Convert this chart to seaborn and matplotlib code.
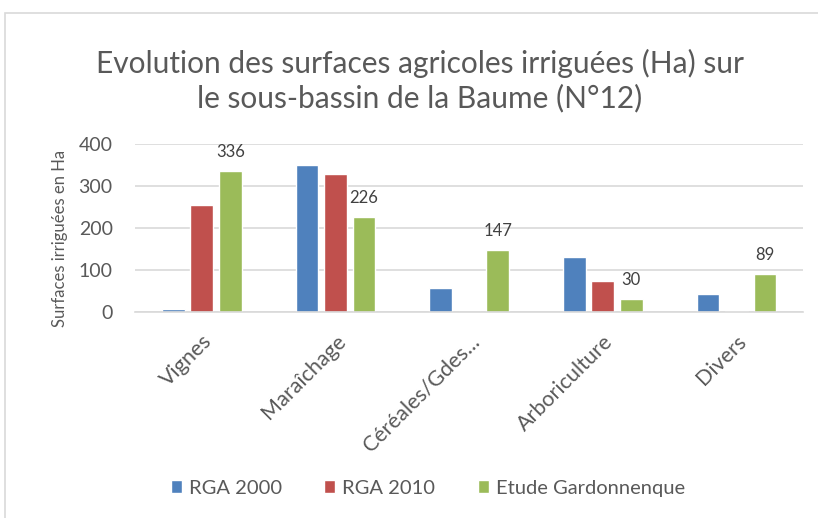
import pandas as pd
import matplotlib.pyplot as plt
import seaborn as sns
from matplotlib.patches import Rectangle

categories = ["Vignes", "Maraîchage", "Céréales/Gdes...", "Arboriculture", "Divers"]
series = ["RGA 2000", "RGA 2010", "Etude Gardonnenque"]
rga_2000 = [7, 351, 56, 130, 42]
rga_2010 = [255, 329, 0, 74, 1]
etude = [336, 226, 147, 30, 89]
colors = ["#4F81BD", "#C0504D", "#9BBB59"]

df = pd.DataFrame({
    "categorie": categories * 3,
    "serie": [series[0]] * 5 + [series[1]] * 5 + [series[2]] * 5,
    "valeur": rga_2000 + rga_2010 + etude,
})

sns.set_theme(style="white")
plt.rcParams["font.family"] = ["Lato", "DejaVu Sans"]
text_col = "#595959"

fig = plt.figure(figsize=(8.18, 5.18), dpi=100)
ax = fig.add_axes([0.165, 0.398, 0.817, 0.324])

sns.barplot(data=df, x="categorie", y="valeur", hue="serie", palette=colors,
            saturation=1, width=0.64, gap=0.2, ax=ax, legend=True)

ax.set_ylim(0, 400)
ax.set_yticks([0, 100, 200, 300, 400])
ax.grid(axis="y", color="#D9D9D9", linewidth=1.2)
ax.set_axisbelow(True)
for s in ["top", "right", "left"]:
    ax.spines[s].set_visible(False)
ax.spines["bottom"].set_color("#D9D9D9")
ax.spines["bottom"].set_linewidth(1.2)
ax.tick_params(axis="y", length=0, labelsize=14, colors=text_col, pad=16)
ax.tick_params(axis="x", length=0, labelsize=15.5, colors=text_col, pad=14)
ax.set_xlabel("")
ax.set_ylabel("Surfaces irriguées en Ha", fontsize=12, color=text_col)
ax.yaxis.set_label_coords(-0.1, 0.44)
plt.setp(ax.get_xticklabels(), rotation=45, ha="right", rotation_mode="anchor")

# labels on the green bars only
ax.bar_label(ax.containers[2], fmt="%d", padding=8, fontsize=12, color="#404040")

leg = ax.legend(loc="center", bbox_to_anchor=(0.438, -1.05), ncol=3, frameon=False,
                fontsize=14.5, handlelength=0.55, handleheight=0.55, columnspacing=2.1,
                handletextpad=0.35)
for t in leg.get_texts():
    t.set_color(text_col)

fig.text(0.513, 0.844, "Evolution des surfaces agricoles irriguées (Ha) sur\nle sous-bassin de la Baume (N°12)",
         ha="center", va="center", fontsize=21.5, color=text_col, linespacing=1.25)

fig.patches.append(Rectangle((0.006, -0.1), 1.1, 1.075, transform=fig.transFigure,
                             fill=False, edgecolor="#D9D9D9", linewidth=1.2))

fig.savefig("out.png", dpi=100)
